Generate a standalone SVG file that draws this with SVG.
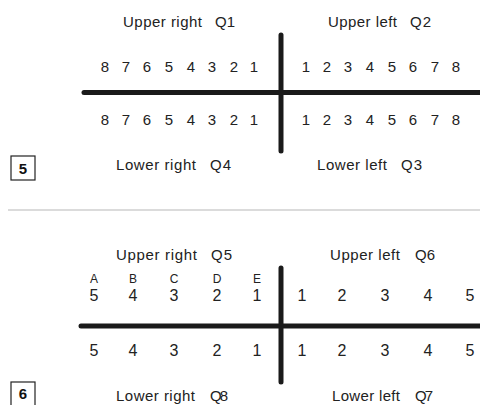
<svg xmlns="http://www.w3.org/2000/svg" width="480" height="405" viewBox="0 0 480 405">
<style>
.lbl{font-family:"Liberation Sans",Arial,sans-serif;font-size:15px;fill:#222}
.num{font-family:"Liberation Sans",Arial,sans-serif;font-size:15px;fill:#222;text-anchor:middle}
.num2{font-family:"Liberation Sans",Arial,sans-serif;font-size:16px;fill:#222;text-anchor:middle}
.let{font-family:"Liberation Sans",Arial,sans-serif;font-size:12px;fill:#222;text-anchor:middle}
.axis{stroke:#1a1a1a;stroke-width:5;stroke-linecap:round;fill:none}
.box{fill:#fff;stroke:#222;stroke-width:1.2}
.boxt{font-family:"Liberation Sans",Arial,sans-serif;font-size:15px;font-weight:bold;fill:#111;text-anchor:middle}
</style>
<rect width="480" height="405" fill="#fff"/>

<g id="connectors">
  <line class="axis" x1="84" y1="92.5" x2="482" y2="92.5"/>
  <line class="axis" x1="281" y1="35" x2="281" y2="151"/>
  <line class="axis" x1="81" y1="326" x2="482" y2="326"/>
  <line class="axis" x1="281" y1="268" x2="281" y2="382"/>
  <line x1="8" y1="210" x2="480" y2="210" stroke="#cfcfcf" stroke-width="1.5"/>
</g>

<g id="diagram5">
  <g id="q1-label">
    <text class="lbl" x="123" y="27" textLength="79" lengthAdjust="spacing">Upper right</text>
    <text class="lbl" x="215" y="27" textLength="20" lengthAdjust="spacing">Q1</text>
  </g>
  <g id="q2-label">
    <text class="lbl" x="328" y="27" textLength="69" lengthAdjust="spacing">Upper left</text>
    <text class="lbl" x="410" y="27" textLength="21" lengthAdjust="spacing">Q2</text>
  </g>
  <g id="q4-label">
    <text class="lbl" x="116" y="170" textLength="80" lengthAdjust="spacing">Lower right</text>
    <text class="lbl" x="210" y="170" textLength="21" lengthAdjust="spacing">Q4</text>
  </g>
  <g id="q3-label">
    <text class="lbl" x="317" y="170" textLength="70" lengthAdjust="spacing">Lower left</text>
    <text class="lbl" x="401" y="170" textLength="21" lengthAdjust="spacing">Q3</text>
  </g>
  <g id="q1-teeth">
    <text class="num" x="105" y="72">8</text><text class="num" x="126" y="72">7</text><text class="num" x="147" y="72">6</text><text class="num" x="169" y="72">5</text><text class="num" x="191" y="72">4</text><text class="num" x="212" y="72">3</text><text class="num" x="234" y="72">2</text><text class="num" x="254" y="72">1</text>
  </g>
  <g id="q2-teeth">
    <text class="num" x="306" y="72">1</text><text class="num" x="327" y="72">2</text><text class="num" x="348" y="72">3</text><text class="num" x="370" y="72">4</text><text class="num" x="392" y="72">5</text><text class="num" x="413" y="72">6</text><text class="num" x="435" y="72">7</text><text class="num" x="456" y="72">8</text>
  </g>
  <g id="q4-teeth">
    <text class="num" x="105" y="125">8</text><text class="num" x="126" y="125">7</text><text class="num" x="147" y="125">6</text><text class="num" x="169" y="125">5</text><text class="num" x="191" y="125">4</text><text class="num" x="212" y="125">3</text><text class="num" x="234" y="125">2</text><text class="num" x="254" y="125">1</text>
  </g>
  <g id="q3-teeth">
    <text class="num" x="306" y="125">1</text><text class="num" x="327" y="125">2</text><text class="num" x="348" y="125">3</text><text class="num" x="370" y="125">4</text><text class="num" x="392" y="125">5</text><text class="num" x="413" y="125">6</text><text class="num" x="435" y="125">7</text><text class="num" x="456" y="125">8</text>
  </g>
  <g id="box5">
    <rect class="box" x="11" y="156" width="24" height="24"/>
    <text class="boxt" x="23" y="174">5</text>
  </g>
</g>

<g id="diagram6">
  <g id="q5-label">
    <text class="lbl" x="116" y="260" textLength="81" lengthAdjust="spacing">Upper right</text>
    <text class="lbl" x="211" y="260" textLength="21" lengthAdjust="spacing">Q5</text>
  </g>
  <g id="q6-label">
    <text class="lbl" x="330" y="260" textLength="70" lengthAdjust="spacing">Upper left</text>
    <text class="lbl" x="415" y="260" textLength="20" lengthAdjust="spacing">Q6</text>
  </g>
  <g id="q8-label">
    <text class="lbl" x="116" y="401" textLength="79" lengthAdjust="spacing">Lower right</text>
    <text class="lbl" x="210" y="401" textLength="18" lengthAdjust="spacing">Q8</text>
  </g>
  <g id="q7-label">
    <text class="lbl" x="332" y="401" textLength="68" lengthAdjust="spacing">Lower left</text>
    <text class="lbl" x="415" y="401" textLength="18" lengthAdjust="spacing">Q7</text>
  </g>
  <g id="q5-letters">
    <text class="let" x="94" y="283">A</text><text class="let" x="133" y="283">B</text><text class="let" x="174" y="283">C</text><text class="let" x="217" y="283">D</text><text class="let" x="257" y="283">E</text>
  </g>
  <g id="q5-teeth">
    <text class="num2" x="94" y="301">5</text><text class="num2" x="133" y="301">4</text><text class="num2" x="174" y="301">3</text><text class="num2" x="217" y="301">2</text><text class="num2" x="257" y="301">1</text>
  </g>
  <g id="q6-teeth">
    <text class="num2" x="302" y="301">1</text><text class="num2" x="342" y="301">2</text><text class="num2" x="385" y="301">3</text><text class="num2" x="428" y="301">4</text><text class="num2" x="470" y="301">5</text>
  </g>
  <g id="q8-teeth">
    <text class="num2" x="94" y="356">5</text><text class="num2" x="133" y="356">4</text><text class="num2" x="174" y="356">3</text><text class="num2" x="217" y="356">2</text><text class="num2" x="257" y="356">1</text>
  </g>
  <g id="q7-teeth">
    <text class="num2" x="302" y="356">1</text><text class="num2" x="342" y="356">2</text><text class="num2" x="385" y="356">3</text><text class="num2" x="428" y="356">4</text><text class="num2" x="470" y="356">5</text>
  </g>
  <g id="box6">
    <rect class="box" x="11" y="382" width="24" height="24"/>
    <text class="boxt" x="23" y="399">6</text>
  </g>
</g>
</svg>
